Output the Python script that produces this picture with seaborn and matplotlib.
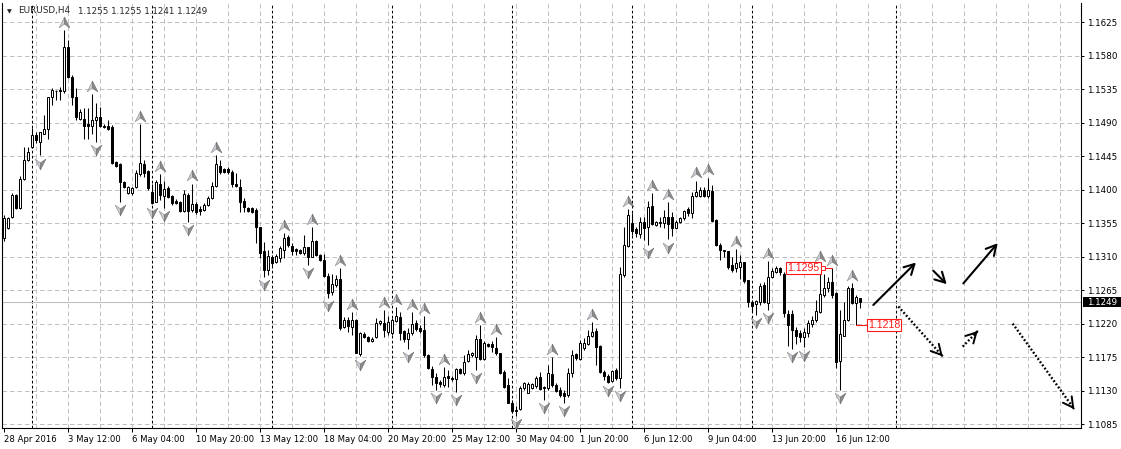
import numpy as np
import pandas as pd
import matplotlib
matplotlib.use("Agg")
import matplotlib.pyplot as plt
import matplotlib.transforms as mtransforms
from matplotlib.patches import Rectangle
from matplotlib.path import Path
from matplotlib.markers import MarkerStyle
import seaborn as sns

# --- 1. DATA: EURUSD H4 candles (bar 0 = left edge) ---
OPEN = [1.1335, 1.1349, 1.1363, 1.1393, 1.1375, 1.1414, 1.1440, 1.1457, 1.1473, 1.1464,
        1.1475, 1.1482, 1.1524, 1.1533, 1.1534, 1.1532, 1.1591, 1.1551, 1.1524, 1.1495,
        1.1495, 1.1488, 1.1485, 1.1493, 1.1497, 1.1486, 1.1485, 1.1484, 1.1437, 1.1435,
        1.1410, 1.1395, 1.1395, 1.1403, 1.1421, 1.1435, 1.1425, 1.1397, 1.1383, 1.1408,
        1.1391, 1.1402, 1.1391, 1.1385, 1.1383, 1.1371, 1.1393, 1.1372, 1.1381, 1.1374,
        1.1372, 1.1379, 1.1389, 1.1405, 1.1432, 1.1428, 1.1428, 1.1424, 1.1408, 1.1404,
        1.1385, 1.1375, 1.1375, 1.1372, 1.1350, 1.1318, 1.1292, 1.1309, 1.1303, 1.1308,
        1.1319, 1.1336, 1.1324, 1.1320, 1.1319, 1.1315, 1.1323, 1.1309, 1.1331, 1.1312,
        1.1306, 1.1284, 1.1262, 1.1272, 1.1280, 1.1215, 1.1225, 1.1215, 1.1225, 1.1179,
        1.1206, 1.1202, 1.1196, 1.1202, 1.1221, 1.1221, 1.1209, 1.1208, 1.1224, 1.1229,
        1.1210, 1.1199, 1.1208, 1.1221, 1.1214, 1.1212, 1.1178, 1.1159, 1.1148, 1.1141,
        1.1138, 1.1150, 1.1147, 1.1145, 1.1159, 1.1154, 1.1170, 1.1178, 1.1175, 1.1200,
        1.1173, 1.1193, 1.1193, 1.1187, 1.1180, 1.1155, 1.1138, 1.1113, 1.1104, 1.1105,
        1.1133, 1.1127, 1.1133, 1.1136, 1.1148, 1.1135, 1.1134, 1.1152, 1.1137, 1.1131,
        1.1127, 1.1124, 1.1154, 1.1179, 1.1172, 1.1187, 1.1192, 1.1203, 1.1210, 1.1190,
        1.1155, 1.1150, 1.1143, 1.1158, 1.1147, 1.1285, 1.1324, 1.1355, 1.1347, 1.1340,
        1.1356, 1.1350, 1.1378, 1.1353, 1.1356, 1.1355, 1.1363, 1.1363, 1.1349, 1.1356,
        1.1362, 1.1374, 1.1369, 1.1391, 1.1391, 1.1400, 1.1392, 1.1398, 1.1359, 1.1326,
        1.1319, 1.1318, 1.1299, 1.1295, 1.1296, 1.1303, 1.1278, 1.1249, 1.1246, 1.1249,
        1.1272, 1.1248, 1.1283, 1.1289, 1.1295, 1.1287, 1.1233, 1.1233, 1.1211, 1.1207,
        1.1202, 1.1208, 1.1219, 1.1225, 1.1236, 1.1259, 1.1268, 1.1276, 1.1261, 1.1170,
        1.1204, 1.1225, 1.1268, 1.1248, 1.1255]
HIGH = [1.1366, 1.1363, 1.1395, 1.1394, 1.1418, 1.1457, 1.1457, 1.1483, 1.1477, 1.1477,
        1.1500, 1.1524, 1.1536, 1.1534, 1.1538, 1.1614, 1.1601, 1.1554, 1.1536, 1.1508,
        1.1509, 1.1509, 1.1528, 1.1516, 1.1511, 1.1488, 1.1493, 1.1487, 1.1438, 1.1436,
        1.1412, 1.1405, 1.1403, 1.1426, 1.1488, 1.1440, 1.1426, 1.1407, 1.1413, 1.1421,
        1.1411, 1.1405, 1.1393, 1.1387, 1.1385, 1.1399, 1.1395, 1.1408, 1.1383, 1.1378,
        1.1382, 1.1391, 1.1410, 1.1446, 1.1440, 1.1429, 1.1430, 1.1426, 1.1422, 1.1414,
        1.1389, 1.1377, 1.1377, 1.1375, 1.1350, 1.1330, 1.1319, 1.1312, 1.1313, 1.1324,
        1.1342, 1.1339, 1.1328, 1.1322, 1.1320, 1.1339, 1.1323, 1.1350, 1.1332, 1.1313,
        1.1314, 1.1288, 1.1286, 1.1285, 1.1295, 1.1229, 1.1229, 1.1236, 1.1226, 1.1209,
        1.1209, 1.1203, 1.1202, 1.1227, 1.1225, 1.1238, 1.1230, 1.1227, 1.1242, 1.1235,
        1.1211, 1.1214, 1.1235, 1.1225, 1.1218, 1.1230, 1.1179, 1.1163, 1.1154, 1.1144,
        1.1162, 1.1158, 1.1150, 1.1161, 1.1161, 1.1178, 1.1184, 1.1182, 1.1205, 1.1218,
        1.1197, 1.1194, 1.1196, 1.1202, 1.1181, 1.1158, 1.1147, 1.1117, 1.1109, 1.1136,
        1.1141, 1.1141, 1.1140, 1.1150, 1.1155, 1.1136, 1.1164, 1.1175, 1.1140, 1.1135,
        1.1131, 1.1160, 1.1184, 1.1181, 1.1198, 1.1201, 1.1211, 1.1222, 1.1214, 1.1191,
        1.1158, 1.1152, 1.1158, 1.1160, 1.1296, 1.1350, 1.1374, 1.1368, 1.1350, 1.1363,
        1.1363, 1.1385, 1.1395, 1.1358, 1.1363, 1.1372, 1.1383, 1.1370, 1.1359, 1.1363,
        1.1373, 1.1377, 1.1397, 1.1412, 1.1404, 1.1404, 1.1416, 1.1406, 1.1360, 1.1328,
        1.1318, 1.1316, 1.1310, 1.1320, 1.1312, 1.1303, 1.1278, 1.1252, 1.1252, 1.1274,
        1.1276, 1.1304, 1.1295, 1.1297, 1.1296, 1.1289, 1.1238, 1.1238, 1.1216, 1.1211,
        1.1214, 1.1225, 1.1230, 1.1252, 1.1300, 1.1287, 1.1283, 1.1295, 1.1262, 1.1238,
        1.1249, 1.1270, 1.1274, 1.1258, 1.1255]
LOW = [1.1331, 1.1347, 1.1362, 1.1374, 1.1374, 1.1413, 1.1438, 1.1456, 1.1462, 1.1446,
       1.1475, 1.1468, 1.1514, 1.1520, 1.1520, 1.1530, 1.1550, 1.1514, 1.1493, 1.1493,
       1.1468, 1.1468, 1.1475, 1.1464, 1.1484, 1.1483, 1.1480, 1.1435, 1.1431, 1.1383,
       1.1402, 1.1394, 1.1393, 1.1402, 1.1418, 1.1417, 1.1399, 1.1380, 1.1383, 1.1386,
       1.1375, 1.1389, 1.1379, 1.1381, 1.1370, 1.1370, 1.1357, 1.1370, 1.1367, 1.1366,
       1.1371, 1.1378, 1.1387, 1.1404, 1.1421, 1.1422, 1.1421, 1.1404, 1.1404, 1.1370,
       1.1370, 1.1370, 1.1369, 1.1328, 1.1308, 1.1283, 1.1285, 1.1298, 1.1301, 1.1303,
       1.1308, 1.1323, 1.1312, 1.1312, 1.1313, 1.1312, 1.1299, 1.1309, 1.1311, 1.1304,
       1.1283, 1.1255, 1.1259, 1.1269, 1.1212, 1.1214, 1.1209, 1.1205, 1.1180, 1.1176,
       1.1201, 1.1195, 1.1195, 1.1201, 1.1218, 1.1202, 1.1205, 1.1205, 1.1222, 1.1198,
       1.1195, 1.1186, 1.1205, 1.1210, 1.1208, 1.1175, 1.1159, 1.1138, 1.1131, 1.1135,
       1.1135, 1.1135, 1.1143, 1.1128, 1.1152, 1.1151, 1.1168, 1.1175, 1.1158, 1.1171,
       1.1171, 1.1189, 1.1182, 1.1178, 1.1152, 1.1133, 1.1113, 1.1100, 1.1096, 1.1104,
       1.1131, 1.1127, 1.1132, 1.1133, 1.1131, 1.1117, 1.1131, 1.1135, 1.1128, 1.1122,
       1.1113, 1.1122, 1.1148, 1.1171, 1.1171, 1.1184, 1.1191, 1.1202, 1.1164, 1.1154,
       1.1144, 1.1140, 1.1142, 1.1144, 1.1134, 1.1283, 1.1323, 1.1339, 1.1336, 1.1335,
       1.1332, 1.1326, 1.1353, 1.1351, 1.1350, 1.1348, 1.1333, 1.1338, 1.1348, 1.1355,
       1.1359, 1.1364, 1.1362, 1.1390, 1.1390, 1.1390, 1.1389, 1.1356, 1.1324, 1.1305,
       1.1310, 1.1294, 1.1289, 1.1289, 1.1280, 1.1274, 1.1242, 1.1236, 1.1232, 1.1245,
       1.1248, 1.1238, 1.1281, 1.1288, 1.1285, 1.1229, 1.1190, 1.1186, 1.1193, 1.1195,
       1.1188, 1.1202, 1.1216, 1.1222, 1.1234, 1.1256, 1.1263, 1.1254, 1.1160, 1.1131,
       1.1203, 1.1223, 1.1246, 1.1218, 1.1241]
CLOSE = [1.1362, 1.1362, 1.1393, 1.1375, 1.1414, 1.1440, 1.1450, 1.1473, 1.1466, 1.1477,
         1.1482, 1.1524, 1.1534, 1.1532, 1.1532, 1.1591, 1.1551, 1.1524, 1.1497, 1.1504,
         1.1485, 1.1486, 1.1493, 1.1497, 1.1485, 1.1484, 1.1481, 1.1436, 1.1432, 1.1410,
         1.1403, 1.1403, 1.1402, 1.1422, 1.1436, 1.1422, 1.1402, 1.1382, 1.1410, 1.1393,
         1.1401, 1.1390, 1.1382, 1.1382, 1.1371, 1.1394, 1.1371, 1.1381, 1.1370, 1.1371,
         1.1379, 1.1389, 1.1405, 1.1435, 1.1424, 1.1424, 1.1424, 1.1408, 1.1405, 1.1383,
         1.1377, 1.1371, 1.1370, 1.1350, 1.1315, 1.1292, 1.1311, 1.1301, 1.1311, 1.1321,
         1.1335, 1.1326, 1.1318, 1.1318, 1.1315, 1.1323, 1.1309, 1.1331, 1.1312, 1.1305,
         1.1284, 1.1261, 1.1273, 1.1280, 1.1214, 1.1225, 1.1217, 1.1225, 1.1181, 1.1207,
         1.1202, 1.1197, 1.1200, 1.1221, 1.1224, 1.1211, 1.1222, 1.1225, 1.1230, 1.1208,
         1.1199, 1.1208, 1.1220, 1.1213, 1.1210, 1.1178, 1.1160, 1.1148, 1.1140, 1.1139,
         1.1148, 1.1147, 1.1145, 1.1159, 1.1154, 1.1168, 1.1179, 1.1181, 1.1199, 1.1173,
         1.1194, 1.1190, 1.1189, 1.1180, 1.1154, 1.1135, 1.1113, 1.1103, 1.1103, 1.1133,
         1.1140, 1.1139, 1.1139, 1.1147, 1.1132, 1.1134, 1.1154, 1.1137, 1.1129, 1.1124,
         1.1123, 1.1154, 1.1178, 1.1174, 1.1194, 1.1194, 1.1204, 1.1209, 1.1188, 1.1155,
         1.1150, 1.1141, 1.1156, 1.1147, 1.1287, 1.1326, 1.1366, 1.1344, 1.1342, 1.1356,
         1.1348, 1.1377, 1.1354, 1.1356, 1.1355, 1.1363, 1.1354, 1.1348, 1.1356, 1.1362,
         1.1371, 1.1369, 1.1391, 1.1397, 1.1399, 1.1392, 1.1399, 1.1358, 1.1326, 1.1319,
         1.1318, 1.1296, 1.1292, 1.1301, 1.1303, 1.1277, 1.1249, 1.1244, 1.1250, 1.1270,
         1.1249, 1.1283, 1.1291, 1.1295, 1.1289, 1.1234, 1.1218, 1.1211, 1.1204, 1.1202,
         1.1209, 1.1221, 1.1225, 1.1237, 1.1260, 1.1268, 1.1276, 1.1259, 1.1168, 1.1206,
         1.1225, 1.1268, 1.1248, 1.1256, 1.1249]

# Bill Williams fractals shown on the chart (bar indices)
UP_FRACTALS = [15, 22, 34, 39, 47, 53, 70, 77, 84, 87, 95, 98, 102, 105, 110, 119, 123,
               137, 147, 156, 162, 166, 173, 176, 183, 191, 204, 207, 212]
DOWN_FRACTALS = [9, 23, 29, 37, 40, 46, 65, 76, 81, 89, 101, 108, 113, 118, 128, 135,
                 140, 151, 154, 161, 166, 188, 191, 197, 200, 209]

# weekly period separators (bar index of each Monday)
WEEK_STARTS = [7, 37, 67, 97, 127, 157, 187, 223]

TIME_BARS = [0, 16, 32, 48, 64, 80, 96, 112, 128, 144, 160, 176, 192, 208]
TIME_LABELS = ["28 Apr 2016", "3 May 12:00", "6 May 04:00", "10 May 20:00", "13 May 12:00",
               "18 May 04:00", "20 May 20:00", "25 May 12:00", "30 May 04:00", "1 Jun 20:00",
               "6 Jun 12:00", "9 Jun 04:00", "13 Jun 20:00", "16 Jun 12:00"]
PRICE_TICKS = [1.1085, 1.1130, 1.1175, 1.1220, 1.1265, 1.1310, 1.1355, 1.1400,
               1.1445, 1.1490, 1.1535, 1.1580, 1.1625]
LAST_PRICE = 1.1249
TITLE_OHLC = "1.1255 1.1255 1.1241 1.1249"

# price labels: (price, bar the line points to, bar the box starts at)
PRICE_LABELS = [(1.1295, 207, 195.9), (1.1218, 213.1, 216.1)]

# forecast arrows drawn in the empty area: ((bar, price) start, (bar, price) end)
ARROWS_SOLID = [((217.45, 1.1245), (228.1, 1.1302)),
                ((232.45, 1.1291), (235.8, 1.1273)),
                ((239.95, 1.1274), (248.55, 1.1328))]
ARROWS_DOTTED = [((223.7, 1.1243), (234.8, 1.1176)),
                 ((239.8, 1.1189), (243.55, 1.1210)),
                 ((252.3, 1.1220), (267.7, 1.1105))]

# --- 2. STYLE ---
sns.set_style("white")
plt.rcParams['font.family'] = ['DejaVu Sans']
plt.rcParams['lines.scale_dashes'] = False

W, H = 1121, 449
fig = plt.figure(figsize=(W / 100, H / 100), dpi=100)
ax = fig.add_axes([2 / W, 21 / H, 1079 / W, 425 / H])
ax.set_xlim(-0.375, 269.375)
ax.set_ylim(1.10798, 1.16506)

# grid
grid_kw = dict(color='#c0c0c0', linewidth=0.72, linestyles=(0, (3.2, 2.2)), zorder=0)
ax.hlines(PRICE_TICKS, -0.375, 269.375, **grid_kw)
ax.vlines(list(range(8, 270, 8)), 1.10798, 1.16506, **grid_kw)
ax.vlines(WEEK_STARTS, 1.10798, 1.16506, color='black', linewidth=0.75,
          linestyles=(0, (2.0, 1.6)), zorder=1)
ax.axhline(LAST_PRICE, color='#c0c0c0', linewidth=0.8, zorder=1)

# --- 3. CANDLES ---
df = pd.DataFrame(dict(o=OPEN, h=HIGH, l=LOW, c=CLOSE))
df['bar'] = np.arange(len(df))
bull = df.c >= df.o
ax.vlines(df.bar, df.l, df.h, color='black', linewidth=0.75, zorder=3)
ax.bar(df.bar, (df.c - df.o).abs(), bottom=np.minimum(df.o, df.c), width=0.5,
       color=np.where(bull, 'white', 'black'), edgecolor='black', linewidth=0.72, zorder=4)

# --- 4. FRACTALS ---
def half(points):
    return MarkerStyle(Path(points + [points[0]],
                            [Path.MOVETO] + [Path.LINETO] * (len(points) - 1) + [Path.CLOSEPOLY]))

up_left = half([(0, 0.5), (0, -0.15), (-0.5, -0.5)])
up_right = half([(0, 0.5), (0.5, -0.5), (0, -0.15)])
dn_left = half([(0, -0.5), (-0.5, 0.5), (0, 0.15)])
dn_right = half([(0, -0.5), (0, 0.15), (0.5, 0.5)])

frac = pd.concat([
    pd.DataFrame(dict(bar=UP_FRACTALS, y=df.h[UP_FRACTALS].values + 0.0011, kind='up')),
    pd.DataFrame(dict(bar=DOWN_FRACTALS, y=df.l[DOWN_FRACTALS].values - 0.0011, kind='down')),
])
for kind, left, right in [('up', up_left, up_right), ('down', dn_left, dn_right)]:
    sub = frac[frac.kind == kind]
    sns.scatterplot(data=sub, x='bar', y='y', marker=left, s=60, color='#c9ccd3',
                    edgecolor='#8a8a8a', linewidth=0.4, zorder=5, ax=ax, legend=False)
    sns.scatterplot(data=sub, x='bar', y='y', marker=right, s=60, color='#8c8c8c',
                    edgecolor='#6a6a6a', linewidth=0.4, zorder=5, ax=ax, legend=False)

# --- 5. PRICE LABELS & ARROWS ---
for price, target, box_left in PRICE_LABELS:
    ax.text(box_left, price, f"{price:.4f}", color='#ff1a1a', fontsize=7.6,
            family='Liberation Sans', ha='left', va='center', zorder=7,
            bbox=dict(boxstyle='square,pad=0.12', fc='white', ec='#ff1a1a', lw=0.8))
ax.plot([204.6, 207], [1.1295, 1.1295], color='#ff1a1a', lw=0.8, zorder=6)
ax.plot([204.95], [1.1295], marker='s', ms=2.4, mfc='white', mec='#ff1a1a', mew=0.7, zorder=7)
ax.plot([213.1, 215.6], [1.1218, 1.1218], color='#ff1a1a', lw=0.8, zorder=6)

head = dict(arrowstyle='->,head_length=0.55,head_width=0.3', color='black',
            shrinkA=0, shrinkB=0, mutation_scale=13)
for start, end in ARROWS_SOLID:
    ax.annotate('', xy=end, xytext=start, arrowprops=dict(head, lw=1.5), zorder=6)
for start, end in ARROWS_DOTTED:
    ax.plot([start[0], end[0]], [start[1], end[1]], color='black', lw=1.7,
            linestyle=(0, (1.3, 1.5)), solid_capstyle='butt', zorder=6)
    near = (end[0] - 0.02 * (end[0] - start[0]), end[1] - 0.02 * (end[1] - start[1]))
    ax.annotate('', xy=end, xytext=near, arrowprops=dict(head, lw=1.4), zorder=6)

# --- 6. AXES ---
ax.spines['top'].set_visible(False)
for side in ['left', 'right', 'bottom']:
    ax.spines[side].set_color('black')
    ax.spines[side].set_linewidth(0.8)

ax.yaxis.tick_right()
ax.set_yticks(PRICE_TICKS)
ax.set_yticklabels([f"{p:.4f}" for p in PRICE_TICKS])
ax.tick_params(axis='y', which='both', right=True, left=False, direction='out',
               length=2.3, width=0.72, pad=2.2, labelsize=6.3, colors='black')

ax.set_xticks(TIME_BARS)
ax.set_xticklabels(TIME_LABELS, ha='left')
ax.tick_params(axis='x', bottom=True, direction='out', length=3.0, width=0.72,
               pad=2.0, labelsize=6.1, colors='black')
ax.set_xlabel('')
ax.set_ylabel('')

# current price marker on the price scale
blend = mtransforms.blended_transform_factory(ax.transAxes, ax.transData)
ax.add_patch(Rectangle((1.0019, LAST_PRICE - 0.00071), 0.0352, 0.00142, transform=blend,
                       facecolor='black', edgecolor='none', clip_on=False, zorder=8))
ax.text(1.0052, LAST_PRICE, f"{LAST_PRICE:.4f}", transform=blend, color='white',
        fontsize=6.3, ha='left', va='center', zorder=9, clip_on=False)

# title line
fig.text(6.5 / W, 1 - 11.5 / H, "\u25bc", fontsize=4.5, ha='left', va='center')
fig.text(18 / W, 1 - 11 / H, "EURUSD,H4", fontsize=6.4, ha='left', va='center')
fig.text(78 / W, 1 - 11 / H, TITLE_OHLC, fontsize=6.3, ha='left', va='center')

fig.savefig('out.png', dpi=100, facecolor='white')
